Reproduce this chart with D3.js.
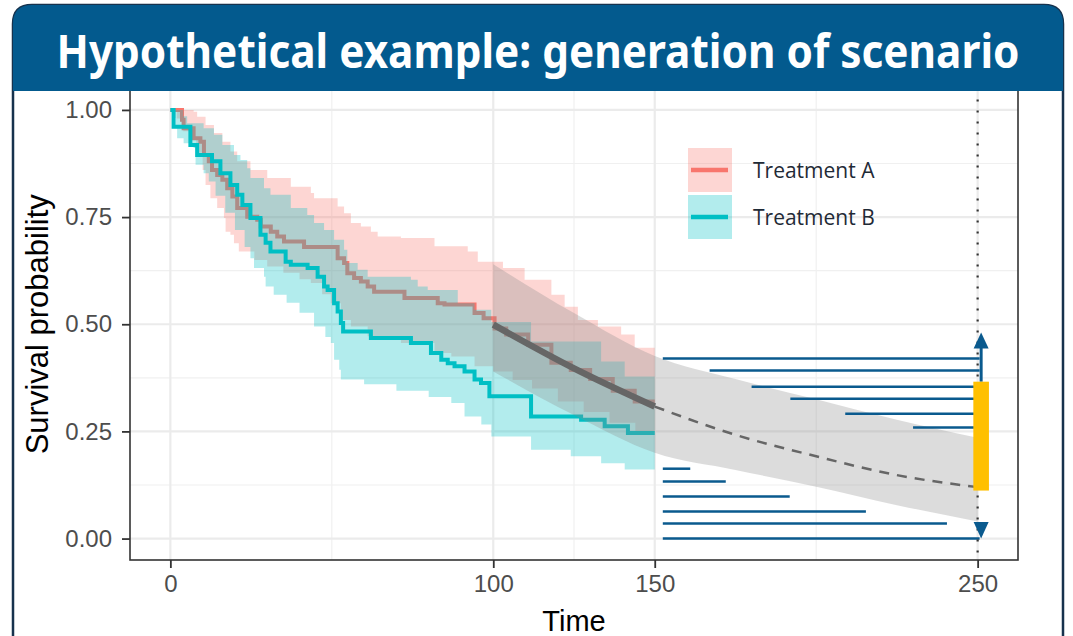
<!DOCTYPE html>
<html>
<head>
<meta charset="utf-8">
<script src="https://cdn.jsdelivr.net/npm/d3@7"></script>
<style>
  body { margin: 0; background: #fff; }
  svg { display: block; }
</style>
</head>
<body>
<svg id="chart" width="1073" height="636"></svg>
<script>
// ---- data ----
var titleText = "Hypothetical example: generation of scenario";
var groups = ["Treatment A", "Treatment B"];
var xTicks = [0, 100, 150, 250];
var xMinor = [50, 125, 200];
var yTicks = [0, 0.25, 0.5, 0.75, 1];
var yMinor = [0.125, 0.375, 0.625, 0.875];

// Kaplan-Meier steps [time, survival]
var kmA = [[0,1],[3.6,0.977],[4.1,0.957],[7.2,0.934],[9.3,0.926],[10.4,0.895],[11.9,0.88],[12.9,0.86],[14.5,0.848],[16.1,0.837],[17.6,0.817],[19.2,0.798],[20.7,0.771],[23.8,0.751],[26.9,0.744],[28,0.728],[31.1,0.716],[33.1,0.705],[35.2,0.693],[41.4,0.68],[51.8,0.654],[53.8,0.643],[54.8,0.619],[56.9,0.608],[59,0.6],[61.1,0.588],[63.1,0.576],[72.5,0.561],[82.8,0.549],[84.9,0.546],[94.2,0.526],[97,0.514],[100.4,0.49],[104,0.476],[110.8,0.452],[118,0.41],[124,0.393],[130,0.372],[137,0.345],[143.8,0.32],[150,0.32]];
var upperA = [[0,1],[7.2,0.996],[8.3,0.984],[10.9,0.965],[13.5,0.946],[16.1,0.926],[18.6,0.903],[20.7,0.88],[24.8,0.86],[30,0.841],[37.3,0.821],[43.5,0.806],[44.5,0.794],[51.8,0.775],[53.8,0.759],[55.9,0.736],[59,0.728],[62.1,0.716],[64.2,0.705],[71.4,0.701],[81.8,0.682],[92.1,0.67],[95.2,0.646],[103,0.631],[109.7,0.604],[118,0.569],[122.1,0.541],[126.2,0.51],[132.4,0.495],[139.6,0.476],[143.8,0.445],[150,0.445]];
var lowerA = [[0,1],[2,0.98],[4,0.95],[6,0.93],[8,0.9],[10,0.86],[10.9,0.825],[12.4,0.794],[14.5,0.771],[16.6,0.748],[17.1,0.716],[18.6,0.709],[19.7,0.689],[21.2,0.67],[26,0.65],[30,0.635],[35,0.62],[40,0.605],[43.5,0.596],[47,0.57],[49.7,0.549],[52.8,0.51],[55.9,0.495],[61.1,0.472],[71.4,0.456],[81.8,0.433],[87,0.425],[94.2,0.402],[100,0.39],[106,0.37],[112,0.35],[120,0.32],[128,0.295],[136,0.27],[144,0.25],[150,0.25]];

var kmB = [[0,1],[1,0.961],[6.2,0.918],[8.3,0.895],[12.9,0.88],[15.5,0.852],[18.6,0.825],[20.7,0.802],[22.3,0.778],[24.8,0.748],[27.9,0.709],[29.5,0.69],[31,0.67],[35.7,0.646],[37.3,0.639],[42.5,0.631],[45.6,0.611],[47.6,0.588],[48.7,0.58],[50.7,0.549],[51.8,0.53],[52.8,0.503],[53.5,0.483],[62.1,0.468],[74.5,0.456],[80.7,0.433],[83.9,0.417],[85.9,0.409],[88,0.402],[91.1,0.39],[94.2,0.371],[96.2,0.363],[98.8,0.332],[111.7,0.285],[127.2,0.277],[134.5,0.262],[141.7,0.246],[150,0.246]];
var upperB = [[0,1],[4,0.985],[5.2,0.969],[10.3,0.957],[13.5,0.942],[16.1,0.918],[19.7,0.895],[21.7,0.883],[23.8,0.864],[24.8,0.841],[29,0.817],[31,0.802],[37.3,0.771],[42.4,0.755],[44.5,0.736],[47.6,0.72],[50.7,0.697],[53.8,0.674],[54.8,0.643],[58,0.627],[61.1,0.611],[74.5,0.604],[76.6,0.588],[79.7,0.58],[89,0.549],[94.2,0.534],[99.4,0.505],[111.7,0.46],[133.4,0.413],[140.7,0.378],[150,0.378]];
var lowerB = [[0,1],[1,0.981],[1.6,0.957],[2.1,0.934],[4.1,0.922],[7.2,0.911],[7.8,0.872],[10.3,0.852],[11.9,0.833],[14,0.8],[17,0.76],[20,0.72],[23,0.68],[24.8,0.654],[25.9,0.631],[29,0.611],[29.5,0.588],[32,0.569],[36,0.55],[40,0.527],[44.5,0.495],[48,0.47],[49.7,0.456],[50.7,0.417],[52.3,0.394],[52.8,0.371],[60,0.36],[70,0.345],[80,0.33],[87,0.316],[91.1,0.285],[96.3,0.266],[99.4,0.238],[111.7,0.207],[124,0.192],[133.4,0.176],[140.7,0.161],[150,0.161]];

// fitted / extrapolated curve with its band
var fitTime  = [100, 125, 150, 175, 200, 225, 250];
var fitSurv  = [0.499, 0.397, 0.308, 0.242, 0.192, 0.148, 0.120];
var fitUpper = [0.64, 0.526, 0.426, 0.372, 0.325, 0.277, 0.235];
var fitLower = [0.39, 0.288, 0.20, 0.16, 0.121, 0.078, 0.04];
var observedEnd = 150;

// scenario lines: upper ones run to t=250, lower ones start at 152.5
var scenUpperLevel = [0.42, 0.392, 0.354, 0.326, 0.291, 0.259];
var scenUpperStart = [152.5, 167, 180, 192, 209, 230];
var scenLowerLevel = [0.163, 0.133, 0.098, 0.063, 0.035, 0.0];
var scenLowerEnd   = [161, 172, 191.8, 215.4, 240.5, 250];
var scenStart = 152.5, horizon = 250;
var rangeBar = [0.112, 0.366];
var arrowTop = 0.481;

// ---- layout ----
var svg = d3.select("#chart");
var pL = 130, pR = 1018, pT = 88.5, pB = 560;
var x = d3.scaleLinear().domain([-12.5, 262.5]).range([pL, pR]);
var y = d3.scaleLinear().domain([-0.05, 1.05]).range([pB, pT]);

var colA = "#F8766D", colB = "#00BFC4", navy = "#0A5A8E";

// outer frame
svg.append("path")
  .attr("d", "M13,640 V24 Q13,5 32,5 H1044 Q1063,5 1063,24 V640")
  .attr("fill", "#fff").attr("stroke", "#17324d").attr("stroke-width", 2.5);

var plot = svg.append("g");

// grid
plot.selectAll(".gy").data(yMinor).join("line")
  .attr("x1", pL).attr("x2", pR).attr("y1", d => y(d)).attr("y2", d => y(d))
  .attr("stroke", "#f0f0f0").attr("stroke-width", 1.2);
plot.selectAll(".gx").data(xMinor).join("line")
  .attr("y1", pT).attr("y2", pB).attr("x1", d => x(d)).attr("x2", d => x(d))
  .attr("stroke", "#f0f0f0").attr("stroke-width", 1.2);
plot.selectAll(".gY").data(yTicks).join("line")
  .attr("x1", pL).attr("x2", pR).attr("y1", d => y(d)).attr("y2", d => y(d))
  .attr("stroke", "#ebebeb").attr("stroke-width", 2.2);
plot.selectAll(".gX").data(xTicks).join("line")
  .attr("y1", pT).attr("y2", pB).attr("x1", d => x(d)).attr("x2", d => x(d))
  .attr("stroke", "#ebebeb").attr("stroke-width", 2.2);

// step helpers
function stepVal(arr, t) {
  var v = arr[0][1];
  for (var i = 0; i < arr.length; i++) { if (arr[i][0] <= t) v = arr[i][1]; }
  return v;
}
function ribbonData(lo, up) {
  var ts = Array.from(new Set(lo.map(d => d[0]).concat(up.map(d => d[0])))).sort((a, b) => a - b);
  return ts.map(t => ({t: t, lo: stepVal(lo, t), up: stepVal(up, t)}));
}
var stepArea = d3.area().curve(d3.curveStepAfter)
  .x(d => x(d.t)).y0(d => y(d.lo)).y1(d => y(d.up));
var stepLine = d3.line().curve(d3.curveStepAfter)
  .x(d => x(d[0])).y(d => y(d[1]));

plot.append("path").attr("d", stepArea(ribbonData(lowerA, upperA)))
  .attr("fill", colA).attr("fill-opacity", 0.3);
plot.append("path").attr("d", stepLine(kmA))
  .attr("fill", "none").attr("stroke", colA).attr("stroke-width", 4);
plot.append("path").attr("d", stepArea(ribbonData(lowerB, upperB)))
  .attr("fill", colB).attr("fill-opacity", 0.3);
plot.append("path").attr("d", stepLine(kmB))
  .attr("fill", "none").attr("stroke", colB).attr("stroke-width", 4);

// fitted band + curve
var fit = fitTime.map((t, i) => ({t: t, s: fitSurv[i], lo: fitLower[i], up: fitUpper[i]}));
plot.append("path")
  .attr("d", d3.area().curve(d3.curveMonotoneX).x(d => x(d.t)).y0(d => y(d.lo)).y1(d => y(d.up))(fit))
  .attr("fill", "#8c8c8c").attr("fill-opacity", 0.3);
var fitLine = d3.line().curve(d3.curveMonotoneX).x(d => x(d.t)).y(d => y(d.s));
plot.append("path").attr("d", fitLine(fit.filter(d => d.t <= observedEnd)))
  .attr("fill", "none").attr("stroke", "#666").attr("stroke-width", 6.5);
plot.append("path").attr("d", fitLine(fit.filter(d => d.t >= observedEnd)))
  .attr("fill", "none").attr("stroke", "#666").attr("stroke-width", 2.5)
  .attr("stroke-dasharray", "10,8");

// scenario lines
plot.selectAll(".su").data(scenUpperLevel).join("line")
  .attr("x1", (d, i) => x(scenUpperStart[i])).attr("x2", x(horizon) + 2)
  .attr("y1", d => y(d)).attr("y2", d => y(d))
  .attr("stroke", navy).attr("stroke-width", 2.5);
plot.selectAll(".sl").data(scenLowerLevel).join("line")
  .attr("x1", x(scenStart)).attr("x2", (d, i) => x(scenLowerEnd[i]) + (i === 5 ? 2 : 0))
  .attr("y1", d => y(d)).attr("y2", d => y(d))
  .attr("stroke", navy).attr("stroke-width", 2.5);

// horizon dotted line
plot.append("line")
  .attr("x1", x(horizon)).attr("x2", x(horizon)).attr("y1", pT).attr("y2", pB)
  .attr("stroke", "#333").attr("stroke-width", 2.2).attr("stroke-dasharray", "2,9");

// range bar and arrows
var ax = x(horizon) + 3.5;
plot.append("line")
  .attr("x1", ax).attr("x2", ax).attr("y1", y(rangeBar[1])).attr("y2", y(arrowTop) + 12)
  .attr("stroke", navy).attr("stroke-width", 3);
plot.append("path")
  .attr("d", "M" + (ax - 7.5) + "," + (y(arrowTop) + 16) + " L" + ax + "," + y(arrowTop) + " L" + (ax + 7.5) + "," + (y(arrowTop) + 16) + "Z")
  .attr("fill", navy);
plot.append("path")
  .attr("d", "M" + (ax - 7.5) + "," + (y(0) - 16.5) + " L" + ax + "," + y(0) + " L" + (ax + 7.5) + "," + (y(0) - 16.5) + "Z")
  .attr("fill", navy);
plot.append("rect")
  .attr("x", ax - 7.8).attr("width", 15.6)
  .attr("y", y(rangeBar[1])).attr("height", y(rangeBar[0]) - y(rangeBar[1]))
  .attr("fill", "#FFC000");

// legend
var legend = svg.append("g").attr("transform", "translate(688,148)");
var lg = legend.selectAll("g").data(groups).join("g")
  .attr("transform", (d, i) => "translate(0," + (i * 47) + ")");
lg.append("rect").attr("width", 44).attr("height", 44)
  .attr("fill", (d, i) => i ? colB : colA).attr("fill-opacity", 0.3);
lg.append("line").attr("x1", 3).attr("x2", 40).attr("y1", 22).attr("y2", 22)
  .attr("stroke", (d, i) => i ? colB : colA).attr("stroke-width", 4.5);
lg.append("text").attr("x", 65).attr("y", 30)
  .attr("font-family", "'Open Sans', sans-serif").attr("font-size", 21)
  .attr("fill", "#1f2a36").text(d => d);

// panel border + axes
plot.append("rect").attr("x", pL).attr("y", pT - 20).attr("width", pR - pL).attr("height", pB - pT + 20)
  .attr("fill", "none").attr("stroke", "#333").attr("stroke-width", 1.6);

var yAxis = svg.append("g").attr("transform", "translate(" + pL + ",0)")
  .call(d3.axisLeft(y).tickValues(yTicks).tickFormat(d3.format(".2f")).tickSize(8).tickPadding(10));
var xAxis = svg.append("g").attr("transform", "translate(0," + pB + ")")
  .call(d3.axisBottom(x).tickValues(xTicks).tickSize(8).tickPadding(7));
[yAxis, xAxis].forEach(function(g) {
  g.select(".domain").remove();
  g.selectAll(".tick line").attr("stroke", "#333").attr("stroke-width", 1.8);
  g.selectAll(".tick text").attr("fill", "#4d4d4d")
    .attr("font-family", "'Liberation Sans', Arial, sans-serif").attr("font-size", 24);
});

svg.append("text").attr("x", (pL + pR) / 2).attr("y", 631)
  .attr("text-anchor", "middle").attr("font-family", "'Liberation Sans', Arial, sans-serif")
  .attr("font-size", 29).attr("fill", "#000").text("Time");
svg.append("text").attr("transform", "translate(48," + ((pT + pB) / 2) + ") rotate(-90)")
  .attr("text-anchor", "middle").attr("font-family", "'Liberation Sans', Arial, sans-serif")
  .attr("font-size", 31).attr("fill", "#000").text("Survival probability");

// header banner
svg.append("path")
  .attr("d", "M13,91 V24 Q13,5 32,5 H1044 Q1063,5 1063,24 V91 Z")
  .attr("fill", "#035A8E");
svg.append("text").attr("x", 538).attr("y", 68)
  .attr("text-anchor", "middle")
  .attr("font-family", "'Noto Sans', 'Open Sans', sans-serif").attr("font-weight", "bold")
  .attr("font-size", 46).attr("fill", "#fff")
  .attr("textLength", 963).attr("lengthAdjust", "spacingAndGlyphs")
  .text(titleText);
</script>
</body>
</html>
